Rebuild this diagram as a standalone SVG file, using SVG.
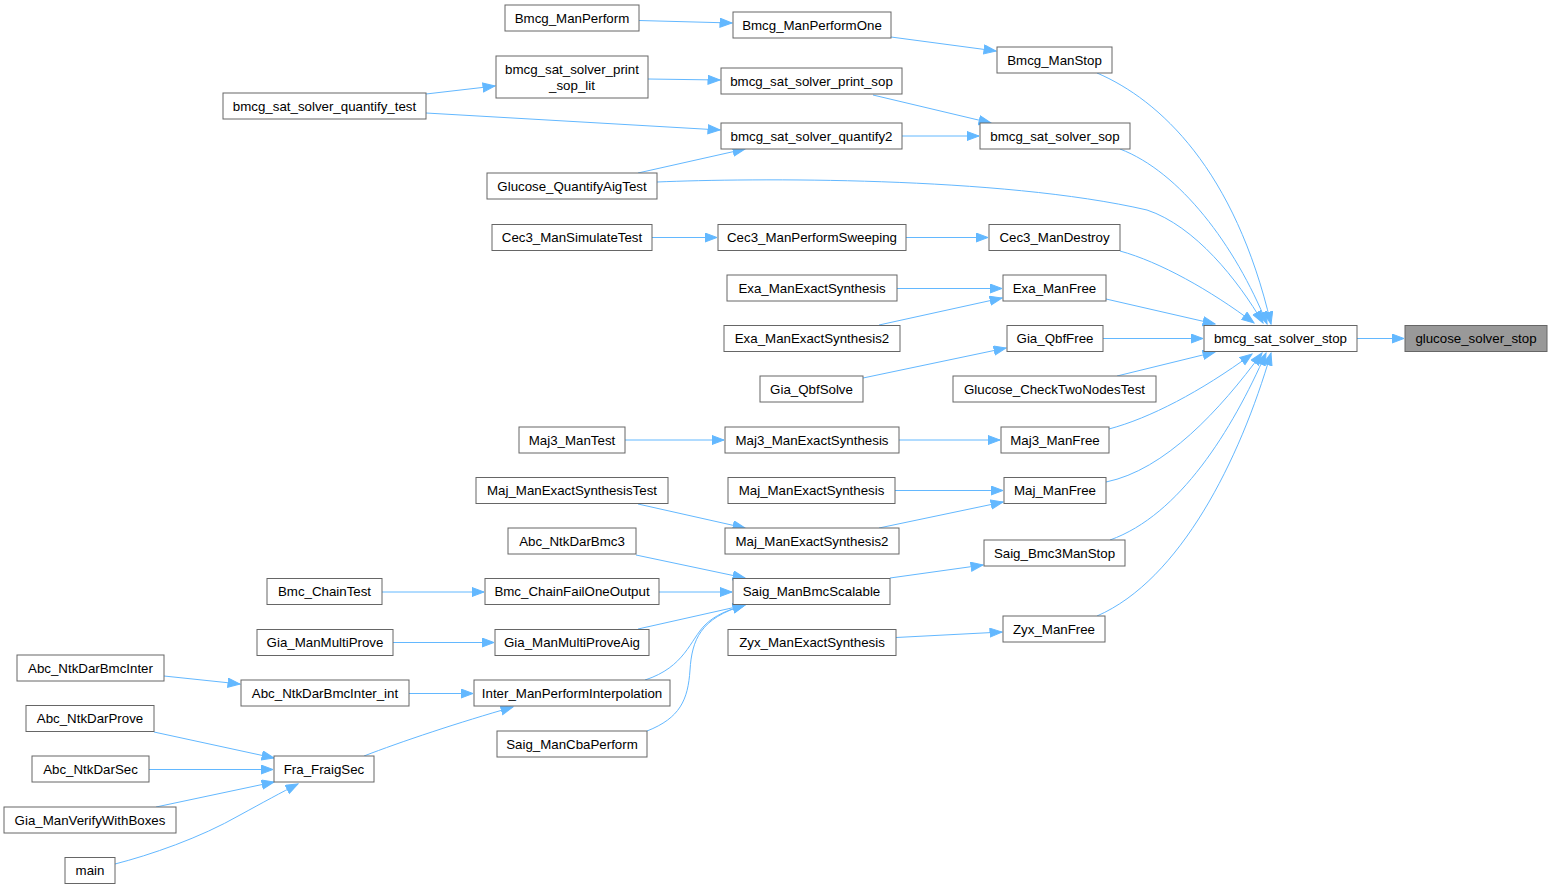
<svg xmlns="http://www.w3.org/2000/svg" width="1549" height="889" viewBox="0 0 1549 889">
<style>
.n rect{fill:#ffffff;stroke:#666666;stroke-width:1}
.n.h rect{fill:#999999}
.n text{font-family:"Liberation Sans",Arial,sans-serif;font-size:13.3px;fill:#000000;text-anchor:middle}
#edges path{fill:none;stroke:#63b8ff;stroke-width:1;marker-end:url(#a)}
</style>
<defs>
<marker id="a" markerWidth="14" markerHeight="11" refX="12.5" refY="5" orient="auto" markerUnits="userSpaceOnUse">
<path d="M0.5,0.5 L12.5,5 L0.5,9.5 z" fill="#63b8ff" stroke="#63b8ff" stroke-width="1"/>
</marker>
</defs>
<rect width="1549" height="889" fill="#ffffff"/>
<g id="edges">
<path d="M1357,338.5 L1404,338.5"/>
<path d="M1097,73 C1160,100 1235,170 1271,324"/>
<path d="M1120,149 C1180,172 1235,245 1267,324"/>
<path d="M657,182 C750,178 1000,176 1147,210 C1195,226 1238,280 1263,323"/>
<path d="M1120,251 C1160,262 1210,290 1254,323"/>
<path d="M1106,299 L1215,324"/>
<path d="M1103,338.5 L1203,338.5"/>
<path d="M1117,376 L1215,352"/>
<path d="M1109,429 C1150,418 1200,392 1252,354"/>
<path d="M1106,482 C1165,470 1220,410 1262,353"/>
<path d="M1110,540 C1180,515 1232,430 1266,353"/>
<path d="M1097,616 C1180,580 1240,460 1271,353"/>
<path d="M891,37 L996,51"/>
<path d="M639,20.5 L732,23"/>
<path d="M873,95 L991,123"/>
<path d="M902,136 L979,136"/>
<path d="M648,79 L720,80"/>
<path d="M426,94 L495,86"/>
<path d="M426,113 L720,130"/>
<path d="M638,173 L745,149"/>
<path d="M906,237.5 L988,237.5"/>
<path d="M652,237.5 L717,237.5"/>
<path d="M897,288.5 L1002,288.5"/>
<path d="M879,325 L1002,298"/>
<path d="M863,378 L1006,348"/>
<path d="M899,440 L1000,440"/>
<path d="M625,440 L724,440"/>
<path d="M895,490.5 L1003,490.5"/>
<path d="M879,528 L1003,502"/>
<path d="M638,504 L745,528"/>
<path d="M890,578 L983,565"/>
<path d="M896,637.5 L1002,632"/>
<path d="M636,555 L745,578"/>
<path d="M659,592 L732,592"/>
<path d="M382,592 L484,592"/>
<path d="M638,629 L745,605"/>
<path d="M393,642.5 L494,642.5"/>
<path d="M645,680 C685,667 690,640 705,625 C715,615 728,610 745,605"/>
<path d="M647,731 C680,718 688,700 690,670 C692,640 700,618 745,605"/>
<path d="M409,693.5 L473,693.5"/>
<path d="M164,676 L240,684"/>
<path d="M364,756 C400,742 460,722 513,707"/>
<path d="M154,732 L274,758"/>
<path d="M149,769.5 L273,769.5"/>
<path d="M156,807 L274,782"/>
<path d="M115,864 C150,855 200,838 240,815 C262,803 282,792 298,784"/>
</g>
<g id="glucose_solver_stop" class="n h"><rect x="1405" y="325.5" width="142" height="26"/><text x="1476" y="343">glucose_solver_stop</text></g>
<g id="bmcg_sat_solver_stop" class="n"><rect x="1204" y="325.5" width="153" height="26"/><text x="1280.5" y="343">bmcg_sat_solver_stop</text></g>
<g id="Bmcg_ManStop" class="n"><rect x="997" y="47" width="115" height="26"/><text x="1054.5" y="64.5">Bmcg_ManStop</text></g>
<g id="bmcg_sat_solver_sop" class="n"><rect x="980" y="123" width="150" height="26"/><text x="1055" y="140.5">bmcg_sat_solver_sop</text></g>
<g id="Cec3_ManDestroy" class="n"><rect x="989" y="224.5" width="131" height="26"/><text x="1054.5" y="242">Cec3_ManDestroy</text></g>
<g id="Exa_ManFree" class="n"><rect x="1003" y="275" width="103" height="26"/><text x="1054.5" y="292.5">Exa_ManFree</text></g>
<g id="Gia_QbfFree" class="n"><rect x="1007" y="325.5" width="96" height="26"/><text x="1055" y="343">Gia_QbfFree</text></g>
<g id="Glucose_CheckTwoNodesTest" class="n"><rect x="953" y="376" width="203" height="26"/><text x="1054.5" y="393.5">Glucose_CheckTwoNodesTest</text></g>
<g id="Maj3_ManFree" class="n"><rect x="1001" y="427" width="108" height="26"/><text x="1055" y="444.5">Maj3_ManFree</text></g>
<g id="Maj_ManFree" class="n"><rect x="1004" y="477.5" width="102" height="26"/><text x="1055" y="495">Maj_ManFree</text></g>
<g id="Saig_Bmc3ManStop" class="n"><rect x="984" y="540" width="141" height="26"/><text x="1054.5" y="557.5">Saig_Bmc3ManStop</text></g>
<g id="Zyx_ManFree" class="n"><rect x="1003" y="616" width="102" height="26"/><text x="1054" y="633.5">Zyx_ManFree</text></g>
<g id="Bmcg_ManPerformOne" class="n"><rect x="733" y="12" width="158" height="26"/><text x="812" y="29.5">Bmcg_ManPerformOne</text></g>
<g id="Bmcg_ManPerform" class="n"><rect x="505" y="5" width="134" height="26"/><text x="572" y="22.5">Bmcg_ManPerform</text></g>
<g id="bmcg_sat_solver_print_sop" class="n"><rect x="721" y="68" width="181" height="26"/><text x="811.5" y="85.5">bmcg_sat_solver_print_sop</text></g>
<g id="bmcg_sat_solver_print_sop_lit" class="n"><rect x="496" y="56" width="152" height="42"/><text x="572" y="74">bmcg_sat_solver_print</text><text x="572" y="90">_sop_lit</text></g>
<g id="bmcg_sat_solver_quantify_test" class="n"><rect x="223" y="93" width="203" height="26"/><text x="324.5" y="110.5">bmcg_sat_solver_quantify_test</text></g>
<g id="bmcg_sat_solver_quantify2" class="n"><rect x="721" y="123" width="181" height="26"/><text x="811.5" y="140.5">bmcg_sat_solver_quantify2</text></g>
<g id="Glucose_QuantifyAigTest" class="n"><rect x="487" y="173" width="170" height="26"/><text x="572" y="190.5">Glucose_QuantifyAigTest</text></g>
<g id="Cec3_ManSimulateTest" class="n"><rect x="492" y="224.5" width="160" height="26"/><text x="572" y="242">Cec3_ManSimulateTest</text></g>
<g id="Cec3_ManPerformSweeping" class="n"><rect x="718" y="224.5" width="188" height="26"/><text x="812" y="242">Cec3_ManPerformSweeping</text></g>
<g id="Exa_ManExactSynthesis" class="n"><rect x="727" y="275" width="170" height="26"/><text x="812" y="292.5">Exa_ManExactSynthesis</text></g>
<g id="Exa_ManExactSynthesis2" class="n"><rect x="724" y="325.5" width="176" height="26"/><text x="812" y="343">Exa_ManExactSynthesis2</text></g>
<g id="Gia_QbfSolve" class="n"><rect x="760" y="376" width="103" height="26"/><text x="811.5" y="393.5">Gia_QbfSolve</text></g>
<g id="Maj3_ManTest" class="n"><rect x="519" y="427" width="106" height="26"/><text x="572" y="444.5">Maj3_ManTest</text></g>
<g id="Maj3_ManExactSynthesis" class="n"><rect x="725" y="427" width="174" height="26"/><text x="812" y="444.5">Maj3_ManExactSynthesis</text></g>
<g id="Maj_ManExactSynthesisTest" class="n"><rect x="476" y="477.5" width="192" height="26"/><text x="572" y="495">Maj_ManExactSynthesisTest</text></g>
<g id="Maj_ManExactSynthesis" class="n"><rect x="728" y="477.5" width="167" height="26"/><text x="811.5" y="495">Maj_ManExactSynthesis</text></g>
<g id="Maj_ManExactSynthesis2" class="n"><rect x="725" y="528" width="174" height="26"/><text x="812" y="545.5">Maj_ManExactSynthesis2</text></g>
<g id="Abc_NtkDarBmc3" class="n"><rect x="508" y="528" width="128" height="26"/><text x="572" y="545.5">Abc_NtkDarBmc3</text></g>
<g id="Saig_ManBmcScalable" class="n"><rect x="733" y="578.5" width="157" height="26"/><text x="811.5" y="596">Saig_ManBmcScalable</text></g>
<g id="Zyx_ManExactSynthesis" class="n"><rect x="728" y="629.5" width="168" height="26"/><text x="812" y="647">Zyx_ManExactSynthesis</text></g>
<g id="Bmc_ChainTest" class="n"><rect x="267" y="578.5" width="115" height="26"/><text x="324.5" y="596">Bmc_ChainTest</text></g>
<g id="Bmc_ChainFailOneOutput" class="n"><rect x="485" y="578.5" width="174" height="26"/><text x="572" y="596">Bmc_ChainFailOneOutput</text></g>
<g id="Gia_ManMultiProve" class="n"><rect x="257" y="629.5" width="136" height="26"/><text x="325" y="647">Gia_ManMultiProve</text></g>
<g id="Gia_ManMultiProveAig" class="n"><rect x="495" y="629.5" width="154" height="26"/><text x="572" y="647">Gia_ManMultiProveAig</text></g>
<g id="Abc_NtkDarBmcInter" class="n"><rect x="17" y="655" width="147" height="26"/><text x="90.5" y="672.5">Abc_NtkDarBmcInter</text></g>
<g id="Abc_NtkDarBmcInter_int" class="n"><rect x="241" y="680" width="168" height="26"/><text x="325" y="697.5">Abc_NtkDarBmcInter_int</text></g>
<g id="Inter_ManPerformInterpolation" class="n"><rect x="474" y="680" width="196" height="26"/><text x="572" y="697.5">Inter_ManPerformInterpolation</text></g>
<g id="Saig_ManCbaPerform" class="n"><rect x="497" y="731" width="150" height="26"/><text x="572" y="748.5">Saig_ManCbaPerform</text></g>
<g id="Abc_NtkDarProve" class="n"><rect x="26" y="705.5" width="128" height="26"/><text x="90" y="723">Abc_NtkDarProve</text></g>
<g id="Abc_NtkDarSec" class="n"><rect x="32" y="756" width="117" height="26"/><text x="90.5" y="773.5">Abc_NtkDarSec</text></g>
<g id="Fra_FraigSec" class="n"><rect x="274" y="756" width="100" height="26"/><text x="324" y="773.5">Fra_FraigSec</text></g>
<g id="Gia_ManVerifyWithBoxes" class="n"><rect x="4" y="807" width="172" height="26"/><text x="90" y="824.5">Gia_ManVerifyWithBoxes</text></g>
<g id="main" class="n"><rect x="65" y="857.5" width="50" height="26"/><text x="90" y="875">main</text></g>
</svg>
